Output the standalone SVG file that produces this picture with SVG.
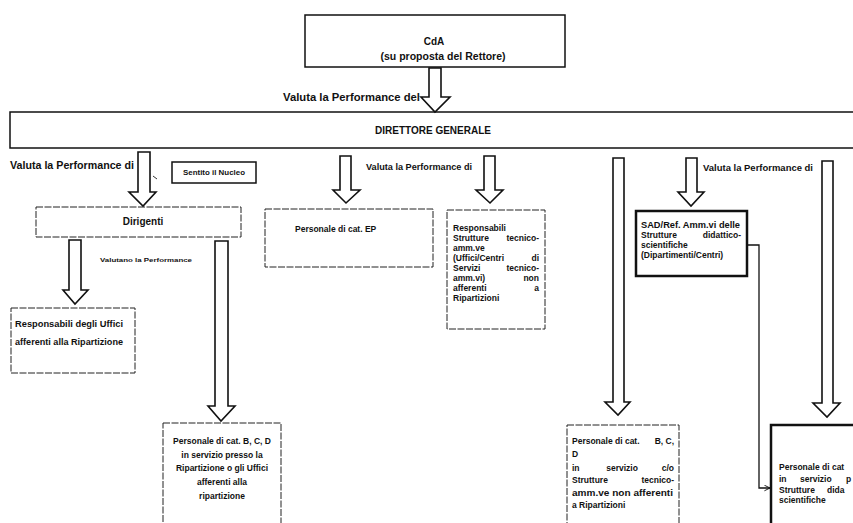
<svg xmlns="http://www.w3.org/2000/svg" width="853" height="523" viewBox="0 0 853 523">
<style>
text{font-family:"Liberation Sans",Arial,sans-serif;fill:#111;font-weight:bold}
.box{fill:#fff;stroke:#111;stroke-width:1.5}
.thick{fill:#fff;stroke:#111;stroke-width:2.5}
.thin{fill:#fff;stroke:#222;stroke-width:1;stroke-dasharray:7 1.5}
.arr{fill:#fff;stroke:#111;stroke-width:1.6;stroke-linejoin:miter}
.t7{font-size:8.5px}
.t9{font-size:9px}
.t10{font-size:10px}
.c{text-anchor:middle}
.e{text-anchor:end}
</style>
<defs>
<marker id="open" viewBox="0 0 10 10" refX="9" refY="5" markerWidth="7" markerHeight="7" orient="auto" markerUnits="userSpaceOnUse">
<path d="M1,1 L9,5 L1,9" fill="none" stroke="#111" stroke-width="1.3"/>
</marker>
</defs>
<rect width="853" height="523" fill="#fff"/>

<g id="cda">
<rect class="box" x="305" y="15" width="260" height="52"/>
<text class="t10 c" x="434" y="45">CdA</text>
<text class="t10 c" x="443" y="60" textLength="125" lengthAdjust="spacingAndGlyphs">(su proposta del Rettore)</text>
</g>

<g id="direttore">
<rect class="box" x="10" y="112" width="860" height="36"/>
<text class="t10 c" x="433" y="134" textLength="116" lengthAdjust="spacingAndGlyphs">DIRETTORE GENERALE</text>
</g>

<g id="nucleo">
<rect class="box" x="172" y="162" width="84" height="21"/>
<text class="c" style="font-size:7.5px" x="214" y="175" textLength="62" lengthAdjust="spacingAndGlyphs">Sentito il Nucleo</text>
</g>

<g id="dirigenti">
<rect class="thin" x="36" y="207" width="205" height="30"/>
<text class="t10 c" x="143" y="225">Dirigenti</text>
</g>

<g id="resp-uffici">
<rect class="thin" x="11" y="308" width="124" height="65"/>
<text class="t7" x="15" y="327" textLength="108" lengthAdjust="spacingAndGlyphs">Responsabili degli Uffici</text>
<text class="t7" x="15" y="345" textLength="108" lengthAdjust="spacingAndGlyphs">afferenti alla Ripartizione</text>
</g>

<g id="pers-bcd-rip">
<rect class="thin" x="163" y="423" width="118" height="110"/>
<text class="t7 c" x="222" y="444">Personale di cat. B, C, D</text>
<text class="t7 c" x="222" y="458">in servizio presso la</text>
<text class="t7 c" x="222" y="471">Ripartizione o gli Uffici</text>
<text class="t7 c" x="222" y="485">afferenti alla</text>
<text class="t7 c" x="222" y="499">ripartizione</text>
</g>

<g id="pers-ep">
<rect class="thin" x="265" y="209" width="168" height="58"/>
<text class="t7" x="295" y="232">Personale di cat. EP</text>
</g>

<g id="resp-strutture">
<rect class="thin" x="447" y="210" width="98" height="119"/>
<text class="t7" x="453" y="231">Responsabili</text>
<text class="t7" x="453" y="241">Strutture</text><text class="t7 e" x="539" y="241">tecnico-</text>
<text class="t7" x="453" y="251">amm.ve</text>
<text class="t7" x="453" y="261">(Uffici/Centri</text><text class="t7 e" x="539" y="261">di</text>
<text class="t7" x="453" y="271">Servizi</text><text class="t7 e" x="539" y="271">tecnico-</text>
<text class="t7" x="453" y="281">amm.vi)</text><text class="t7 e" x="539" y="281">non</text>
<text class="t7" x="453" y="291">afferenti</text><text class="t7 e" x="539" y="291">a</text>
<text class="t7" x="453" y="301">Ripartizioni</text>
</g>

<g id="sad">
<rect class="thick" x="636" y="211" width="111" height="65"/>
<text class="t7" x="641" y="228" textLength="99" lengthAdjust="spacingAndGlyphs">SAD/Ref. Amm.vi delle</text>
<text class="t7" x="641" y="238">Strutture</text><text class="t7 e" x="741" y="238">didattico-</text>
<text class="t7" x="641" y="248">scientifiche</text>
<text class="t7" x="641" y="258">(Dipartimenti/Centri)</text>
</g>

<g id="pers-bcd-strutture">
<rect class="thin" x="567" y="425" width="112" height="110"/>
<text class="t7" x="572" y="444">Personale di cat.</text><text class="t7 e" x="674" y="444">B, C,</text>
<text class="t7" x="572" y="457">D</text>
<text class="t7" x="572" y="471">in</text><text class="t7 c" x="622" y="471">servizio</text><text class="t7 e" x="674" y="471">c/o</text>
<text class="t7" x="572" y="483">Strutture</text><text class="t7 e" x="674" y="483">tecnico-</text>
<text class="t7" x="572" y="496" textLength="101" lengthAdjust="spacingAndGlyphs">amm.ve non afferenti</text>
<text class="t7" x="572" y="508">a Ripartizioni</text>
</g>

<g id="pers-didattiche">
<rect class="thick" x="771" y="425" width="100" height="110"/>
<text class="t7" x="779" y="470">Personale di cat</text>
<text class="t7" x="779" y="482">in</text><text class="t7" x="800" y="482">servizio</text><text class="t7" x="846" y="482">p</text>
<text class="t7" x="779" y="493">Strutture</text><text class="t7" x="827" y="493">dida</text>
<text class="t7" x="779" y="503">scientifiche</text>
</g>

<g id="labels">
<text class="t10" x="283" y="101" textLength="137" lengthAdjust="spacingAndGlyphs">Valuta la Performance del</text>
<text class="t10" x="10" y="169" textLength="124" lengthAdjust="spacingAndGlyphs">Valuta la Performance di</text>
<text class="t9" x="366" y="170" textLength="106" lengthAdjust="spacingAndGlyphs">Valuta la Performance di</text>
<text class="t9" x="703" y="171" textLength="110" lengthAdjust="spacingAndGlyphs">Valuta la Performance di</text>
<text style="font-size:5.5px" x="100" y="262" textLength="92" lengthAdjust="spacingAndGlyphs">Valutano la Performance</text>
</g>

<g id="connectors">
<polygon class="arr" points="429,68 441,68 441,97 450,97 435,112 421,97 429,97"/>
<polygon class="arr" points="138,152 150,152 150,192 156,192 143,206 129,192 138,192"/>
<polygon class="arr" points="340,156 351,156 351,190 360,190 346,203 333,190 340,190"/>
<polygon class="arr" points="484,156 495,156 495,190 503,190 490,203 476,190 484,190"/>
<polygon class="arr" points="686,158 697,158 697,192 704,192 691,206 678,192 686,192"/>
<polygon class="arr" points="69,240 81,240 81,290 88,290 75,304 63,290 69,290"/>
<polygon class="arr" points="215,241 228,241 228,406 235,406 221,421 208,406 215,406"/>
<polygon class="arr" points="613,158 624,158 624,402 630,402 618,415 605,402 613,402"/>
<polygon class="arr" points="822,161 833,161 833,403 840,403 827,417 813,403 822,403"/>
<polyline points="747,245 759,245 759,488 770,488" fill="none" stroke="#111" stroke-width="1.3" marker-end="url(#open)"/>
<line x1="157" y1="179" x2="153" y2="176" stroke="#333" stroke-width="1"/>
</g>
</svg>
